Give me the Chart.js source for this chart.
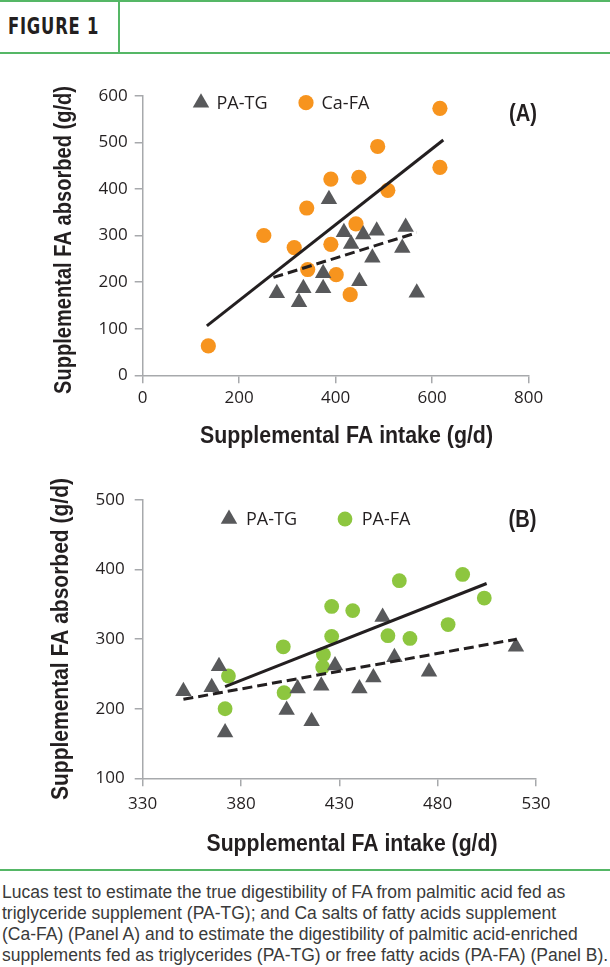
<!DOCTYPE html>
<html lang="en">

<head>
    <meta charset="UTF-8" />
    <title>Figure 1</title>
    <script src="https://cdn.jsdelivr.net/npm/chart.js@4.4.1/dist/chart.umd.min.js"></script>
    <style>
        html, body { margin: 0; padding: 0; background: #fff; }
        #page { position: relative; width: 610px; height: 967px; overflow: hidden; }
        .gline { position: absolute; background: #55b766; }
        #fig-title {
            position: absolute; left: 8px; top: 13px; display: inline-block;
            font: bold 23px "Liberation Sans Narrow", "DejaVu Sans Condensed", sans-serif;
            letter-spacing: 1px; color: #231f20; line-height: 26px; white-space: nowrap;
            transform-origin: 0 50%;
        }
        canvas { position: absolute; left: 0; }
        #caption {
            position: absolute; left: 2px; top: 882px; width: 608px;
            font: 17.5px "Liberation Sans", Arial, sans-serif; line-height: 21px; color: #3a3a3a;
            white-space: nowrap;
        }
    </style>
</head>

<body>
    <div id="page">
        <!-- header -->
        <div class="gline" style="left:0;top:0;width:610px;height:2px;"></div>
        <div class="gline" style="left:118px;top:0;width:2px;height:54px;"></div>
        <div class="gline" style="left:0;top:52px;width:610px;height:2px;"></div>
        <div id="fig-title">FIGURE 1</div>

        <canvas id="chartA" width="610" height="400" style="top:55px;"></canvas>
        <canvas id="chartB" width="610" height="410" style="top:455px;"></canvas>

        <!-- caption -->
        <div class="gline" style="left:0;top:869px;width:610px;height:2px;"></div>
        <div id="caption">
            Lucas test to estimate the true digestibility of FA from palmitic acid fed as<br>
            triglyceride supplement (PA-TG); and Ca salts of fatty acids supplement<br>
            (Ca-FA) (Panel A) and to estimate the digestibility of palmitic acid-enriched<br>
            supplements fed as triglycerides (PA-TG) or free fatty acids (PA-FA) (Panel B).
        </div>
    </div>

<script>
    // ---- Panel A data (g/d) ----
    const aTgX = [386, 417, 457, 485, 545, 432, 538, 476, 374, 449, 278, 333, 374, 324, 568];
    const aTgY = [378, 307, 302, 310, 318, 282, 273, 252, 219, 202, 176, 187, 187, 157, 177];
    const aCaX = [616, 487, 616, 390, 448, 508, 340, 442, 251, 314, 390, 342, 401, 430, 136];
    const aCaY = [573, 491, 446, 421, 425, 397, 359, 325, 300, 274, 281, 227, 216, 173, 63];
    // regression lines (end points)
    const aCaFitX = [133, 623];
    const aCaFitY = [106, 505];
    const aTgFitX = [271, 568];
    const aTgFitY = [210, 306];
    const aTicksX = [0, 200, 400, 600, 800];
    const aTicksY = [0, 100, 200, 300, 400, 500, 600];

    // ---- Panel B data (g/d) ----
    const bTgX = [452, 519.8, 458, 427.8, 475.6, 447.3, 420.8, 440.2, 408.8, 368.8, 365.1, 350.7, 403.2, 415.9, 371.9];
    const bTgY = [332, 289, 274, 262, 253, 245, 233, 229, 229, 261, 231, 225, 198, 182, 166];
    const bFaX = [492.7, 460.5, 503.7, 426.1, 436.8, 485.3, 426.1, 454.7, 465.9, 401.5, 421.9, 421.5, 373.6, 401.9, 371.9];
    const bFaY = [393, 384, 359, 347, 341, 321, 304, 305, 301, 289, 278, 260, 247, 223, 200];
    const bFaFitX = [371.9, 504.9];
    const bFaFitY = [231.7, 380];
    const bTgFitX = [350.7, 520.2];
    const bTgFitY = [213.5, 300];
    const bTicksX = [330, 380, 430, 480, 530];
    const bTicksY = [100, 200, 300, 400, 500];

    const GRAY = '#58595b';
    const ORANGE = '#f7941e';
    const GREEN = '#8dc63f';
    const INK = '#231f20';
    const AXIS = '#a7a9ac';
    const TICK_FONT = { family: '"Open Sans", "Noto Sans", sans-serif', size: 17 };
    const TITLE_FONT = 'bold 23px "Liberation Sans Narrow", "Liberation Sans", sans-serif';

    // squeeze the header label to its width in the figure
    const figTitle = document.getElementById('fig-title');
    figTitle.style.transform = 'scaleX(' + (91 / figTitle.offsetWidth) + ')';

    const pts = (xs, ys) => xs.map((x, i) => ({ x: x, y: ys[i] }));

    function pointSet(label, xs, ys, color, style, r) {
        return {
            label: label, data: pts(xs, ys), order: 2,
            backgroundColor: color, borderWidth: 0,
            pointStyle: style, pointRadius: r, pointHoverRadius: r
        };
    }
    function fitLine(xs, ys, dashed) {
        return {
            type: 'line', data: pts(xs, ys), order: 0,
            borderColor: INK, borderWidth: 3, borderDash: dashed ? [10, 5] : [],
            pointRadius: 0, showLine: true, fill: false
        };
    }

    // text squeezed / stretched to the width it has in the figure
    function fitText(ctx, text, cx, cy, width, rotate) {
        ctx.save();
        ctx.translate(cx, cy);
        if (rotate) ctx.rotate(-Math.PI / 2);
        ctx.font = TITLE_FONT;
        const w = ctx.measureText(text).width;
        ctx.scale(width / w, 1);
        ctx.textAlign = 'center';
        ctx.textBaseline = 'middle';
        ctx.fillStyle = INK;
        ctx.fillText(text, 0, 0);
        ctx.restore();
    }

    // legend, panel tag and axis titles
    const overlay = {
        id: 'overlay',
        afterDraw(chart, args, o) {
            const ctx = chart.ctx;
            ctx.save();
            o.legend.forEach(item => {
                const ds = chart.data.datasets[item.ds];
                ctx.fillStyle = ds.backgroundColor;
                Chart.helpers.drawPoint(ctx, { pointStyle: ds.pointStyle, radius: ds.pointRadius, borderWidth: 0, rotation: 0 }, item.x, item.y);
                ctx.fillStyle = INK;
                ctx.font = '18px "Open Sans", "Noto Sans", sans-serif';
                ctx.textAlign = 'left';
                ctx.textBaseline = 'middle';
                ctx.fillText(ds.label, item.x + item.gap, item.y + 1);
            });
            fitText(ctx, o.tag.text, o.tag.x, o.tag.y, o.tag.w, false);
            fitText(ctx, o.xTitle.text, o.xTitle.x, o.xTitle.y, o.xTitle.w, false);
            fitText(ctx, o.yTitle.text, o.yTitle.x, o.yTitle.y, o.yTitle.w, true);
            ctx.restore();
        }
    };

    function axis(min, max, tickList, fit, pad) {
        return {
            type: 'linear', min: min, max: max,
            afterBuildTicks: s => { s.ticks = tickList.map(v => ({ value: v })); },
            afterFit: fit,
            grid: { drawOnChartArea: false, color: AXIS, lineWidth: 1.5, tickLength: 8 },
            border: { color: AXIS, width: 1.5 },
            ticks: { font: TICK_FONT, color: INK, padding: pad, maxRotation: 0, autoSkip: false }
        };
    }

    new Chart(document.getElementById('chartA'), {
        type: 'scatter',
        data: {
            datasets: [
                pointSet('PA-TG', aTgX, aTgY, GRAY, 'triangle', 9.5),
                pointSet('Ca-FA', aCaX, aCaY, ORANGE, 'circle', 7.6),
                fitLine(aCaFitX, aCaFitY, false),
                fitLine(aTgFitX, aTgFitY, true)
            ]
        },
        options: {
            responsive: false, animation: false, events: [],
            layout: { padding: { top: 40.7, right: 81.3, left: 0, bottom: 0 } },
            plugins: {
                legend: { display: false }, tooltip: { enabled: false },
                overlay: {
                    legend: [{ ds: 0, x: 201, y: 47.7, gap: 15.5 }, { ds: 1, x: 306, y: 47.7, gap: 15.5 }],
                    tag: { text: '(A)', x: 523, y: 60, w: 28 },
                    xTitle: { text: 'Supplemental FA intake (g/d)', x: 346.5, y: 381.7, w: 293 },
                    yTitle: { text: 'Supplemental FA absorbed (g/d)', x: 65, y: 185, w: 308 }
                }
            },
            scales: {
                x: axis(0, 800, aTicksX, s => { s.height = 79.7; }, 5),
                y: axis(0, 600, aTicksY, s => { s.width = 142.7; }, 7)
            }
        },
        plugins: [overlay]
    });

    new Chart(document.getElementById('chartB'), {
        type: 'scatter',
        data: {
            datasets: [
                pointSet('PA-TG', bTgX, bTgY, GRAY, 'triangle', 9.5),
                pointSet('PA-FA', bFaX, bFaY, GREEN, 'circle', 7.4),
                fitLine(bFaFitX, bFaFitY, false),
                fitLine(bTgFitX, bTgFitY, true)
            ]
        },
        options: {
            responsive: false, animation: false, events: [],
            layout: { padding: { top: 45, right: 74, left: 0, bottom: 0 } },
            plugins: {
                legend: { display: false }, tooltip: { enabled: false },
                overlay: {
                    legend: [{ ds: 0, x: 229, y: 64, gap: 17 }, { ds: 1, x: 345, y: 64, gap: 16.7 }],
                    tag: { text: '(B)', x: 522.5, y: 65.3, w: 28 },
                    xTitle: { text: 'Supplemental FA intake (g/d)', x: 352, y: 390, w: 291 },
                    yTitle: { text: 'Supplemental FA absorbed (g/d)', x: 62, y: 184, w: 322 }
                }
            },
            scales: {
                x: axis(330, 530, bTicksX, s => { s.height = 86.7; }, 8),
                y: axis(100, 500, bTicksY, s => { s.width = 142.7; }, 10)
            }
        },
        plugins: [overlay]
    });
</script>
</body>

</html>
